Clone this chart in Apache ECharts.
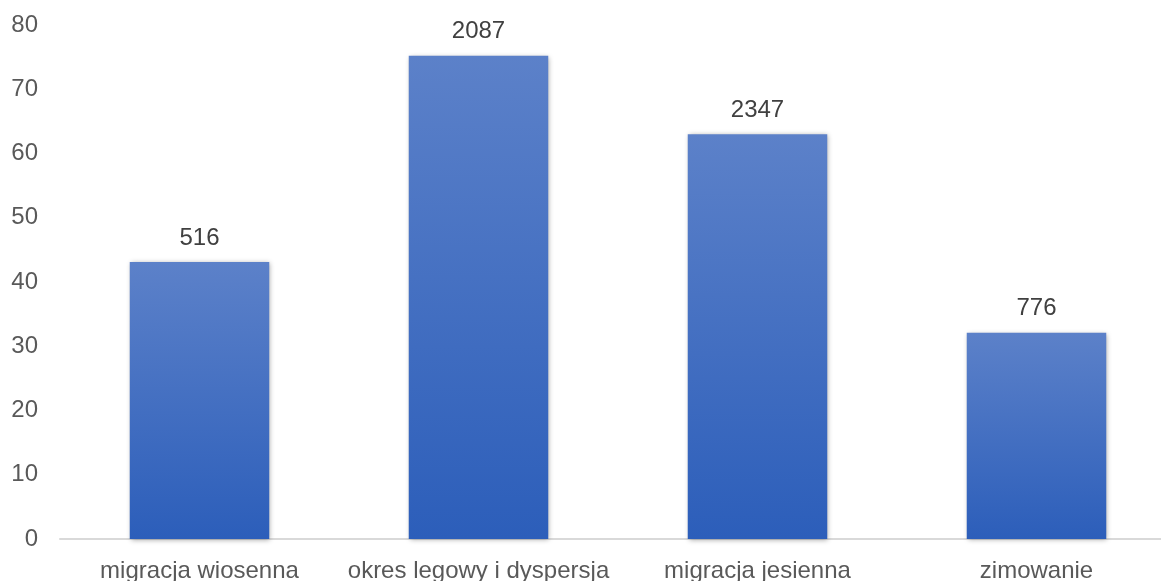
<!DOCTYPE html>
<html>
<head>
<meta charset="utf-8">
<script src="https://cdn.jsdelivr.net/npm/echarts@6/dist/echarts.min.js"></script>
<style>
  html, body { margin: 0; padding: 0; background: #fff; overflow: hidden; }
  #chart { width: 1180px; height: 581px; }
</style>
</head>
<body>
<div id="chart"></div>
<script>
// Seasonal periods, bar heights and the counts printed above each bar
const categories = ['migracja wiosenna', 'okres legowy i dyspersja', 'migracja jesienna', 'zimowanie'];
const barValues = [43.1, 75.2, 63.0, 32.1];
const countLabels = ['516', '2087', '2347', '776'];
const yTicks = [0, 10, 20, 30, 40, 50, 60, 70, 80];

const font = '"Liberation Sans", Arial, Helvetica, sans-serif';
const chart = echarts.init(document.getElementById('chart'), null, { renderer: 'canvas' });

chart.setOption({
  animation: false,
  grid: { left: 60, top: 25, bottom: 42, width: 1116, containLabel: false, outerBoundsMode: 'none' },
  xAxis: {
    type: 'category',
    data: categories,
    axisLine: { lineStyle: { color: '#d9d9d9', width: 2 } },
    axisTick: { show: false },
    axisLabel: { interval: 0, color: '#595959', fontSize: 24, fontFamily: font, margin: 20 }
  },
  yAxis: {
    type: 'value',
    min: yTicks[0],
    max: yTicks[yTicks.length - 1],
    interval: 10,
    axisLine: { show: false },
    axisTick: { show: false },
    splitLine: { show: false },
    axisLabel: { color: '#595959', fontSize: 24, fontFamily: font, margin: 22 }
  },
  series: [{
    type: 'bar',
    barWidth: '50%',
    data: barValues,
    itemStyle: {
      color: new echarts.graphic.LinearGradient(0, 0, 0, 1, [
        { offset: 0, color: '#5c81c9' },
        { offset: 1, color: '#2c5eba' }
      ]),
      shadowColor: 'rgba(0,0,0,0.35)',
      shadowBlur: 5,
      shadowOffsetX: 1,
      shadowOffsetY: 1
    },
    label: {
      show: true,
      position: 'top',
      distance: 12,
      color: '#404040',
      fontSize: 24,
      fontFamily: font,
      formatter: p => countLabels[p.dataIndex]
    }
  }]
});
</script>
</body>
</html>
